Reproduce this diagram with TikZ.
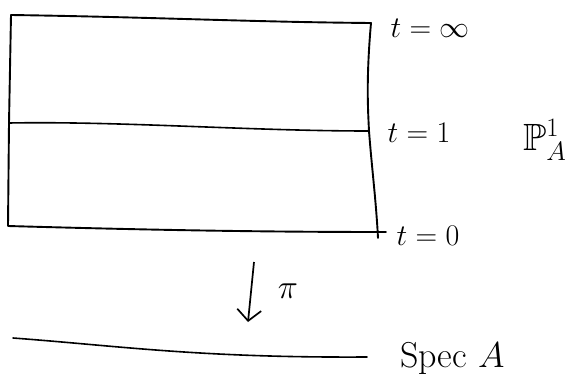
\documentclass[tikz,border=0pt]{standalone}
\usepackage{fix-cm}
\usepackage{amssymb}
\usepackage{fontspec}
\usepackage{tikz}
\usetikzlibrary{arrows.meta}

\begin{document}
\begin{tikzpicture}[x=1pt,y=-1pt,
		edge/.style={draw=black,line width=1.9pt,line cap=round,line join=round},
		fibre/.style={draw=black,line width=1.6pt,line cap=round},
		proj/.style={draw=black,line width=1.7pt,
			-{Straight Barb[length=11pt,width=24pt,line width=1.7pt]}},
		lbl/.style={font=\fontsize{30}{36}\selectfont,inner sep=0pt},
		big/.style={font=\fontsize{38}{44}\selectfont,inner sep=0pt}]

		\useasboundingbox (0,0) rectangle (576,388);

		%%%%%%%%%%%%%%%%  the box P^1 over Spec A  %%%%%%%%%%%%%%%%
		\coordinate (tl) at (11,15);
		\coordinate (tr) at (371,23);
		\coordinate (ml) at (9,123);
		\coordinate (mr) at (369,131);
		\coordinate (bl) at (8,226);
		\coordinate (br) at (378,232);
		\coordinate (bx) at (386,232);
		\coordinate (by) at (378,238);
		\draw[edge] (tl) .. controls (150,17) and (250,22) .. (tr)
			.. controls (366,80) and (368,110) .. (mr)
			.. controls (372,170) and (376,200) .. (by);
		\draw[edge] (tl) -- (ml) -- (bl) .. controls (150,230) and (260,232) .. (bx);
		\draw[fibre] (ml) .. controls (120,121) and (250,131) .. (mr);
		% heights on the fibre
		\node[lbl] (tinf) at (430,28) {$t=\infty$};
		\node[lbl] (tone) at (419,133) {$t=1$};
		\node[lbl] (tzero) at (428,236) {$t=0$};
		\node[big,anchor=base west] (pone) at (523,150) {$\mathbb{P}^1_A$};

		%%%%%%%%%%%%%%%%  projection and base  %%%%%%%%%%%%%%%%
		\coordinate (ptop) at (254,262);
		\coordinate (pbot) at (248,322);
		\draw[proj] (ptop) -- (pbot);
		\node[lbl,font=\fontsize{34}{40}\selectfont] (pi) at (288,291) {$\pi$};
		\coordinate (sl) at (13,338);
		\coordinate (sr) at (367,357);
		\draw[fibre] (sl) .. controls (120,346) and (200,358) .. (sr);
		\node[lbl,font=\fontsize{36}{42}\selectfont,anchor=base west] (spec)
			at (400,367) {Spec $A$};
\end{tikzpicture}
\end{document}
